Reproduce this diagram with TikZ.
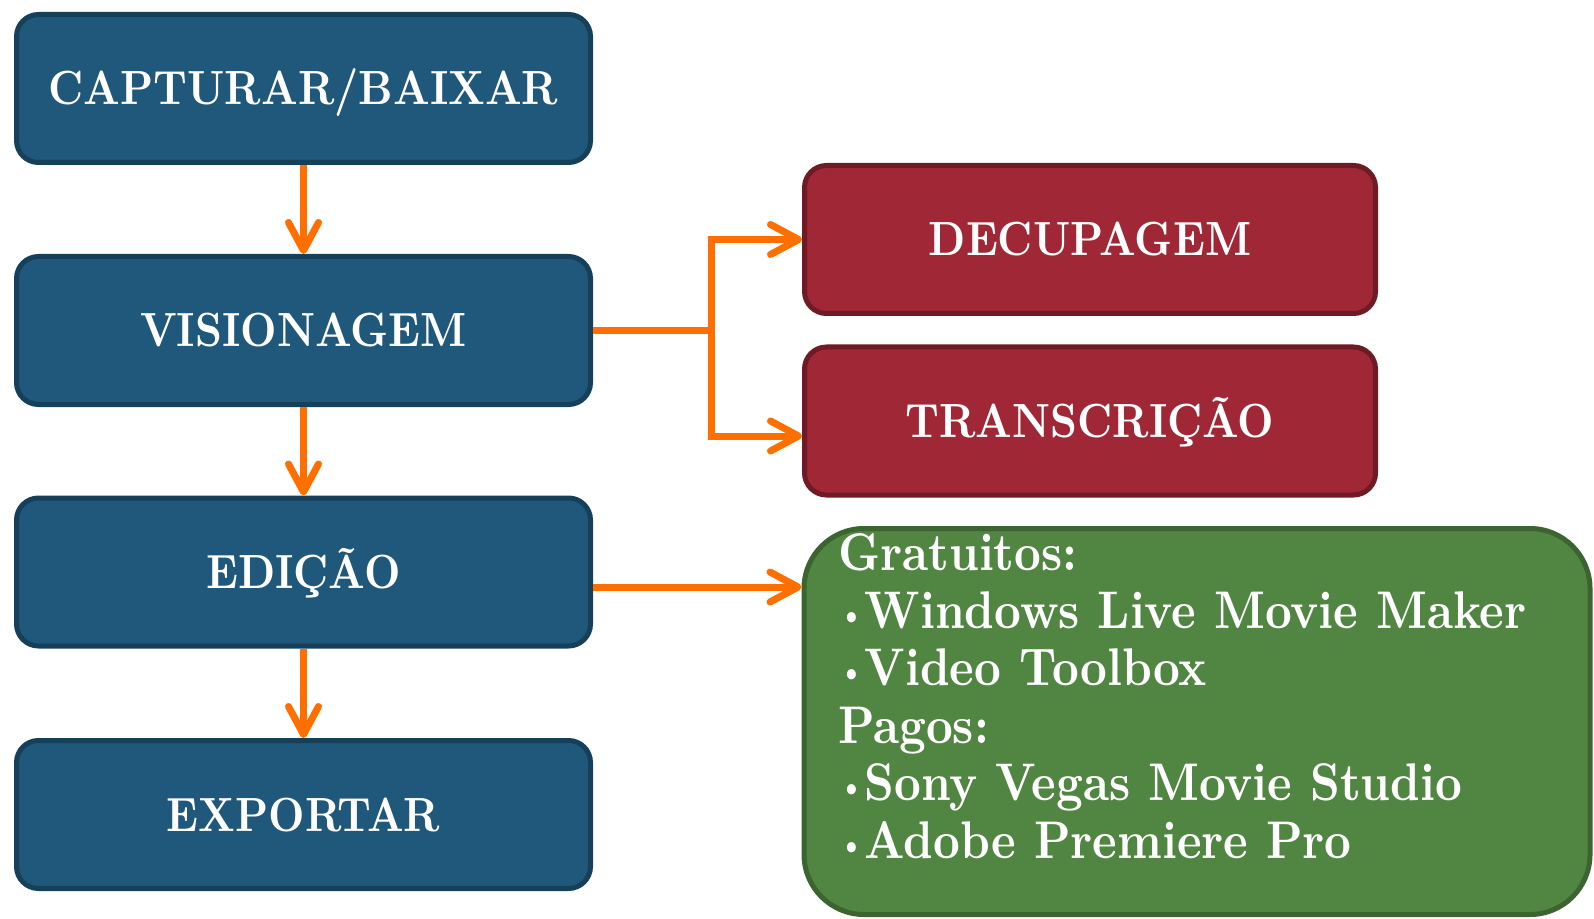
\documentclass[tikz,border=0pt]{standalone}
\usepackage{fontspec}
\setmainfont{lmroman10-regular.otf}[BoldFont=lmroman10-bold.otf, FakeStretch=0.88]
\usetikzlibrary{arrows.meta}
\definecolor{bluefill}{HTML}{1F587A}
\definecolor{blueline}{HTML}{163F5A}
\definecolor{redfill}{HTML}{A02836}
\definecolor{redline}{HTML}{6F1B25}
\definecolor{greenfill}{HTML}{518542}
\definecolor{greenline}{HTML}{3C6430}
\definecolor{arrowor}{HTML}{FF6F00}
\newcommand\mybul{\raisebox{1.5pt}{\fontsize{17}{17}\selectfont•}}
\begin{document}
\begin{tikzpicture}[x=0.5pt,y=-0.5pt,
  box/.style={line width=2.5pt, rounded corners=11pt, minimum width=287pt,
    minimum height=74pt, inner sep=0pt, text=white,
    font=\bfseries\fontsize{24}{28}\selectfont, text height=16.5pt, text depth=0pt},
  bluebox/.style={box, draw=blueline, fill=bluefill},
  redbox/.style={box, draw=redline, fill=redfill, minimum width=285.5pt},
  greenbox/.style={draw=greenline, fill=greenfill, line width=2.5pt, rounded corners=30pt,
    minimum width=393pt, minimum height=193pt, inner sep=0pt, text=white},
  conn/.style={draw=arrowor, line width=3.5pt},
  tip/.style={conn, -{Straight Barb[length=14pt, width=15pt, line cap=round, line join=round]}}
]
\useasboundingbox (0,0) rectangle (1594,919);

\node[bluebox] (cap) at (303.5,88.5) {CAPTURAR/BAIXAR};
\node[bluebox] (vis) at (303.5,330.5) {VISIONAGEM};
\node[bluebox] (edi) at (303.5,572) {EDIÇÃO};
\node[bluebox] (exp) at (303.5,814.5) {EXPORTAR};

\node[redbox] (dec) at (1090,239.5) {DECUPAGEM};
\node[redbox] (tra) at (1090,421) {TRANSCRIÇÃO};

\node[greenbox] (gre) at (1197,721.5) {%
  \begin{minipage}[c][193pt][t]{359pt}\raggedright
  \bfseries\fontsize{26.5}{28.75}\selectfont
  \rule{0pt}{21pt}Gratuitos:\\
  \mybul Windows Live Movie Maker\\
  \mybul Video Toolbox\\
  Pagos:\\
  \mybul Sony Vegas Movie Studio\\
  \mybul Adobe Premiere Pro
  \end{minipage}};

\draw[tip] (cap.south) -- (vis.north);
\draw[tip] (vis.south) -- (edi.north);
\draw[tip] (edi.south) -- (exp.north);

\coordinate (j) at (711,330.5);
\coordinate (t2) at ([yshift=-7.5pt]tra.west);
\draw[conn] (vis.east) -- (j);
\draw[tip] (j) |- (dec.west);
\draw[tip] (j) |- (t2);

\coordinate (e1) at ([yshift=-7.5pt]edi.east);
\draw[tip] (e1) -- (e1 -| gre.west);
\end{tikzpicture}
\end{document}
